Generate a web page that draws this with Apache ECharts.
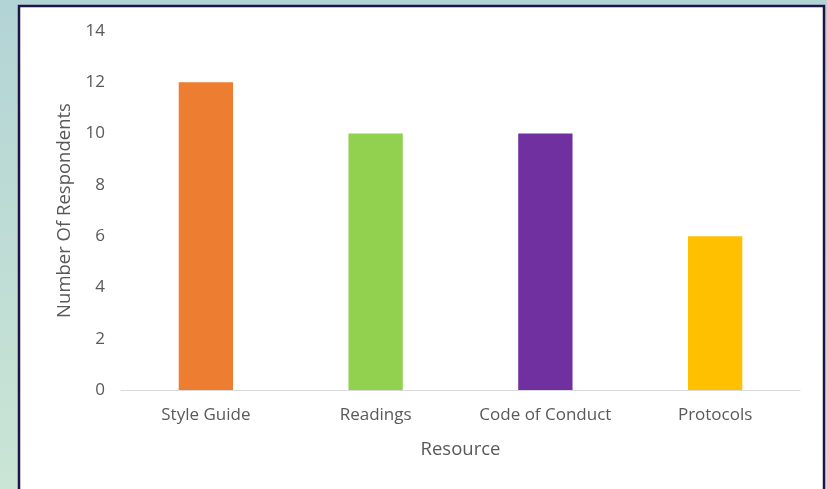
<!DOCTYPE html>
<html><head><meta charset="utf-8">
<script src="https://cdn.jsdelivr.net/npm/echarts@6/dist/echarts.min.js"></script>
<style>html,body{margin:0;padding:0;}#c{width:827px;height:489px;}</style>
</head><body><div id="c"></div>
<script>
const categories = ['Style Guide', 'Readings', 'Code of Conduct', 'Protocols'];
const respondents = [12, 10, 10, 6];
const barColors = ['#ED7D31', '#92D050', '#7030A0', '#FFC000'];
const yTicks = [0, 2, 4, 6, 8, 10, 12, 14];

const chart = echarts.init(document.getElementById('c'));
const font = 'Open Sans, Noto Sans, sans-serif';
chart.setOption({
  backgroundColor: new echarts.graphic.LinearGradient(0, 0, 0, 1, [
    {offset: 0, color: '#b3d4d6'}, {offset: 1, color: '#cae5d5'}
  ]),
  graphic: [{
    type: 'rect', z: -1, silent: true,
    shape: {x: 19, y: 6, width: 805, height: 495},
    style: {fill: '#ffffff', stroke: '#1e1446', lineWidth: 2.5}
  }],
  grid: {left: 121, right: 27, top: 31, bottom: 99, containLabel: false},
  xAxis: {
    type: 'category', data: categories,
    name: 'Resource', nameLocation: 'middle', nameGap: 50,
    nameTextStyle: {color: '#595959', fontSize: 18.5, fontFamily: font},
    axisLine: {lineStyle: {color: '#d9d9d9', width: 1}},
    axisTick: {show: false},
    axisLabel: {color: '#595959', fontSize: 17, fontFamily: font, margin: 17, interval: 0}
  },
  yAxis: {
    type: 'value', min: 0, max: 14, interval: 2,
    name: 'Number Of Respondents', nameLocation: 'middle', nameGap: 47,
    nameTextStyle: {color: '#595959', fontSize: 18.5, fontFamily: font},
    axisLine: {show: false}, axisTick: {show: false},
    splitLine: {show: false},
    axisLabel: {color: '#595959', fontSize: 17, fontFamily: font, margin: 16,
      formatter: v => yTicks.includes(v) ? String(v) : ''}
  },
  series: [{
    type: 'bar', barWidth: '32%',
    data: respondents.map((v, i) => ({value: v, itemStyle: {color: barColors[i]}}))
  }]
});
</script></body></html>
